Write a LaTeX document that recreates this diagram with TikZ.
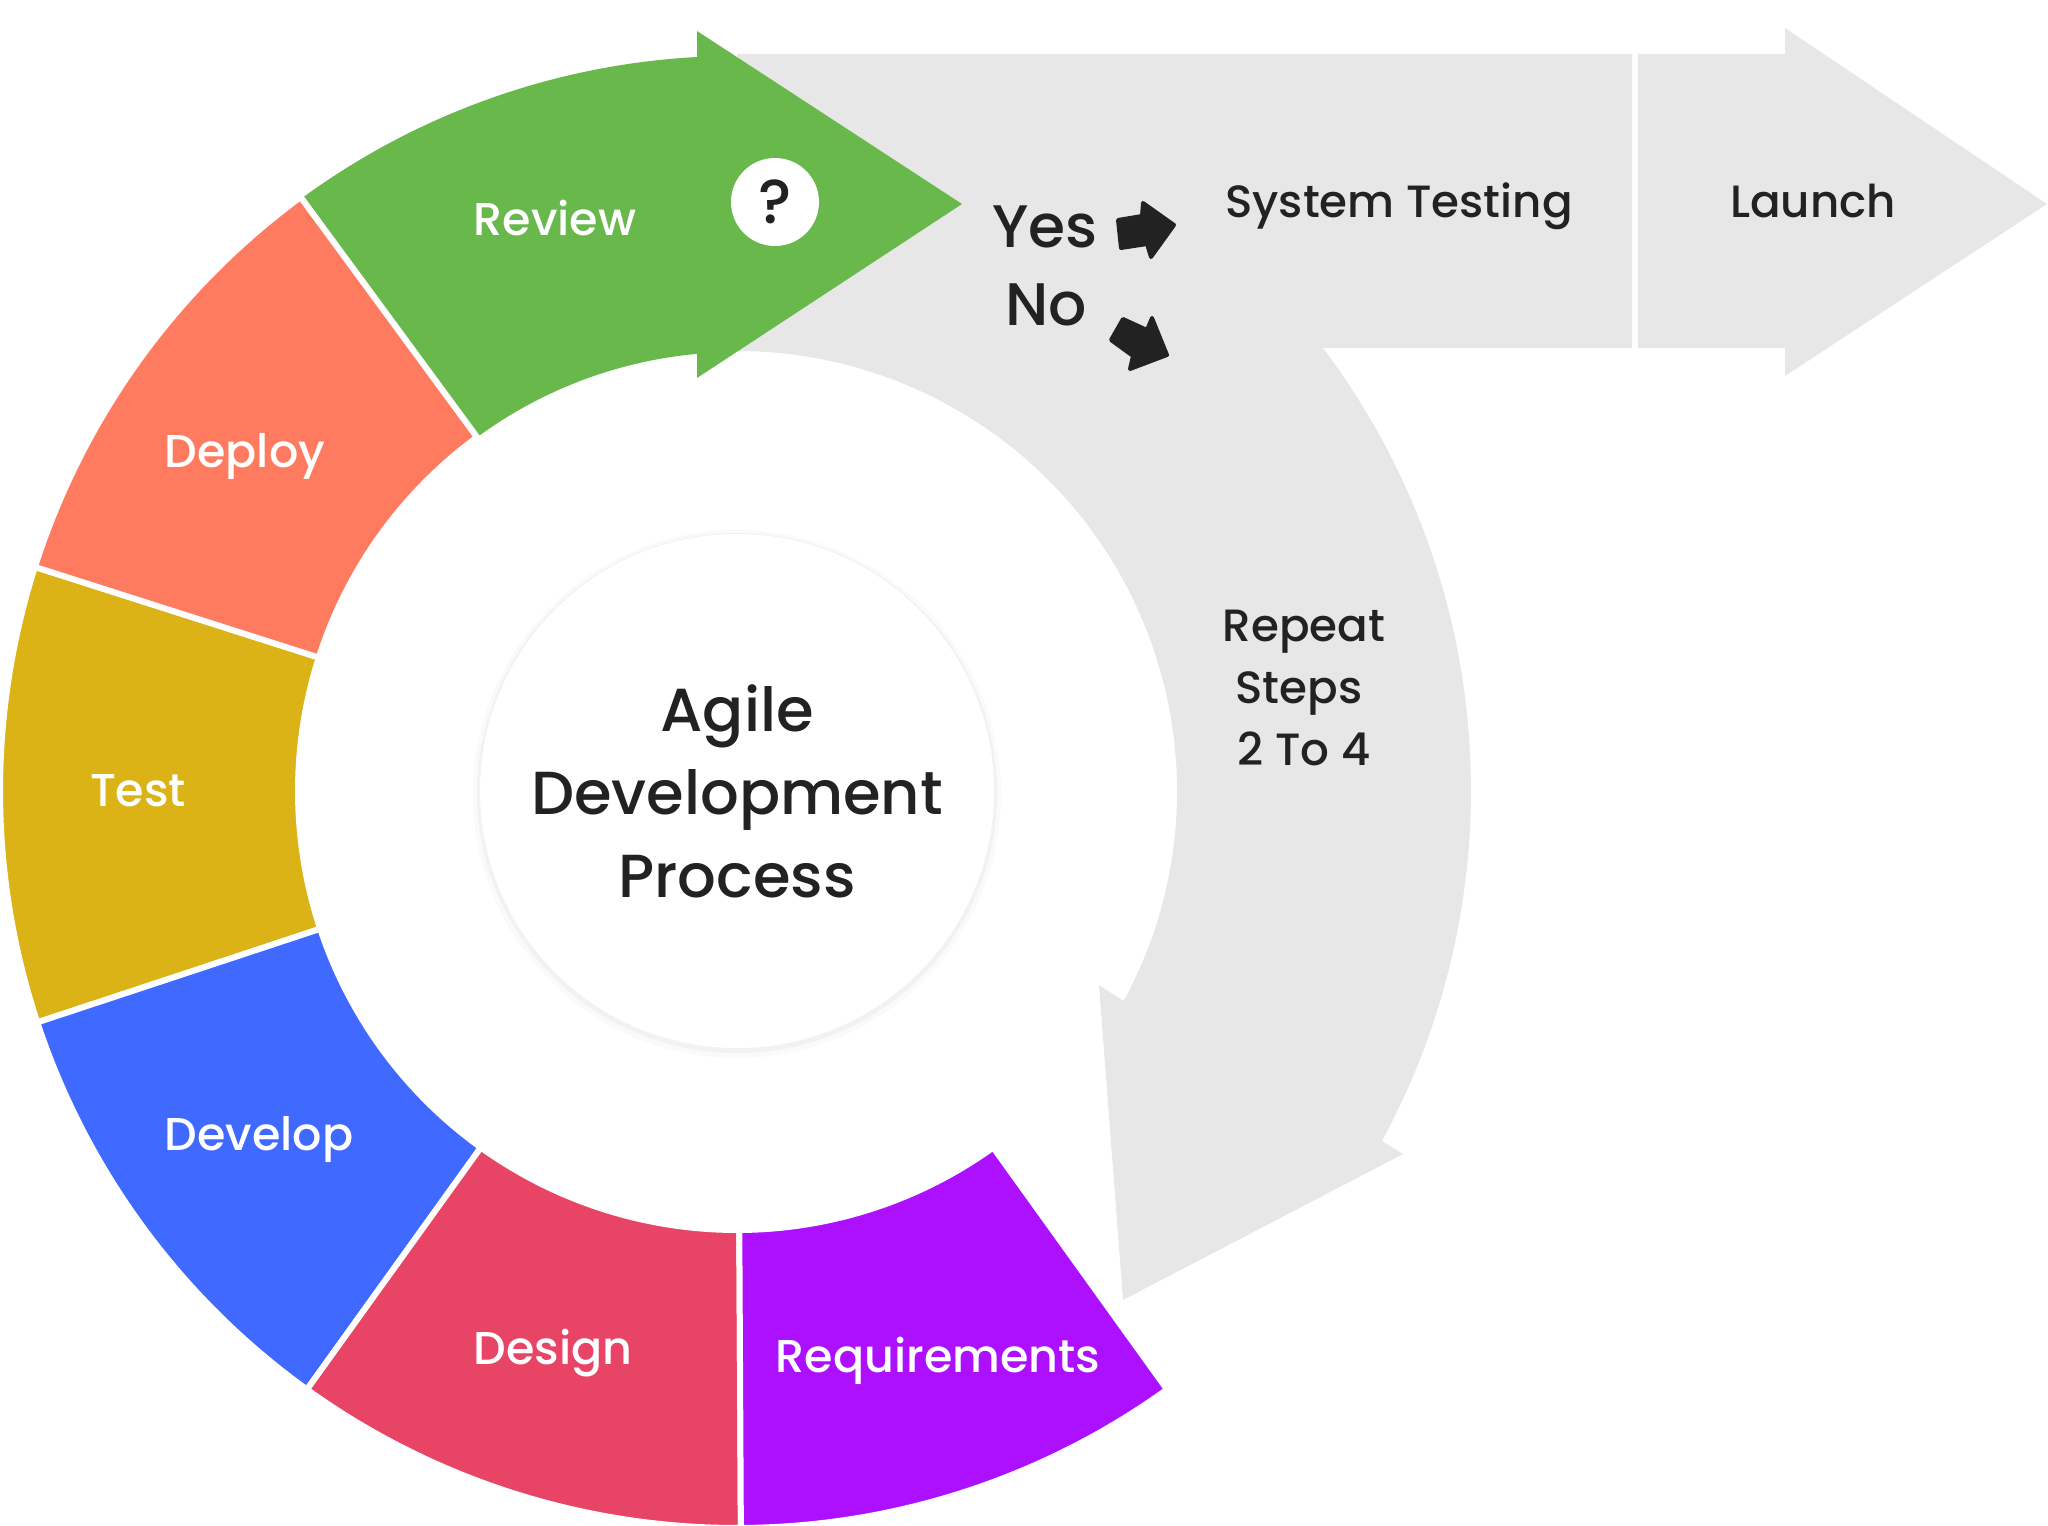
\documentclass[tikz,border=0pt]{standalone}
\usepackage{fontspec}
\setmainfont{Poppins Medium}
\usetikzlibrary{positioning}
\definecolor{greyband}{HTML}{E7E7E7}
\definecolor{inkdark}{HTML}{222222}
\definecolor{reviewc}{HTML}{69B84C}
\definecolor{deployc}{HTML}{FF7B5F}
\definecolor{testc}{HTML}{DBB316}
\definecolor{developc}{HTML}{3F69FF}
\definecolor{designc}{HTML}{E84466}
\definecolor{reqc}{HTML}{AD0FFF}
\tikzset{
  seg/.style   ={draw=white,line width=3pt,line join=miter},
  lab/.style   ={font=\fontsize{23}{26}\selectfont,text=white,inner sep=0pt},
  dark/.style  ={font=\fontsize{22.6}{31}\selectfont,text=inkdark,align=center,inner sep=0pt},
  ans/.style   ={font=\fontsize{30}{34}\selectfont,text=inkdark,inner sep=0pt},
  icon/.style  ={fill=inkdark,draw=inkdark,line width=2pt,line join=round},
}
\begin{document}
\begin{tikzpicture}[x=0.5pt,y=0.5pt]
\useasboundingbox (0,0) rectangle (2048,-1525);
\coordinate (C) at (737,-791);

% grey return band and the bar
\begin{scope}[shift={(C)}]
\fill[greyband] (90:737) -- (895,737) -- (895,443) -- (586,443)
  arc[start angle=37,end angle=-28.5,radius=735]
  -- (666,-363) -- (386,-509) -- (362,-194)
  -- (-28.5:440) arc[start angle=-28.5,end angle=90,radius=440] -- cycle;
\end{scope}
\fill[greyband] (1638,-54) -- (1785,-54) -- (1785,-28) -- (2047,-204)
  -- (1785,-376) -- (1785,-348) -- (1638,-348) -- cycle;

% ring
\begin{scope}[shift={(C)}]
\foreach \a/\b/\col in {162.3/198.3/testc,198.3/234.3/developc,234.3/270.3/designc,270.3/305.7/reqc,126.3/162.3/deployc}{
  \filldraw[seg,fill=\col] (\a:439) arc[start angle=\a,end angle=\b,radius=439]
    -- (\b:737) arc[start angle=\b,end angle=\a,radius=737] -- cycle;
}
\fill[reviewc] (126.3:439) arc[start angle=126.3,end angle=95.2,radius=439]
  -- (-40,413) -- (225,587) -- (-40,760) -- (-40,734)
  arc[start angle=93.1,end angle=126.3,radius=736] -- cycle;
\draw[white,line width=3pt] (126.3:437) -- (126.3:739);
\fill[black!2] (0,-3) circle[radius=264];
\fill[black!5] (0,-2) circle[radius=260];
\end{scope}

\node[circle,fill=white,minimum size=257pt,inner sep=0pt,dark,
  font=\fontsize{30.4}{41.5}\selectfont] (hub) at (737,-791) {Agile\\Development\\Process};

\node[lab] (review) at (555,-218) {Review};
\node[circle,fill=white,minimum size=44pt,inner sep=0pt,text=inkdark,
  font=\fontsize{31}{33}\selectfont] (ask) at (775,-202) {?};
\node[lab] (deploy) at (245,-456) {Deploy};
\node[lab] (test) at (138,-791) {Test};
\node[lab] (develop) at (259,-1139) {Develop};
\node[lab] (design) at (553,-1353) {Design};
\node[lab] (req) at (938,-1361) {Requirements};

\node[dark] (systest) at (1399,-206) {System Testing};
\node[dark] (launch) at (1813,-201) {Launch};
\node[dark] (repeat) at (1304,-688) {Repeat\\Steps\kern5pt\\2 To 4};
\node[ans] (yes) at (1045,-227) {Yes};
\node[ans] (no) at (1046,-305) {No};

\filldraw[icon] (1118,-220) -- (1142,-216) -- (1143,-203) -- (1174,-225)
  -- (1151,-257) -- (1147,-244) -- (1121,-248) -- cycle;
\filldraw[icon] (1111,-340) -- (1123,-319) -- (1147,-330) -- (1152,-318)
  -- (1167,-355) -- (1130,-369) -- (1133,-356) -- cycle;
\end{tikzpicture}
\end{document}
